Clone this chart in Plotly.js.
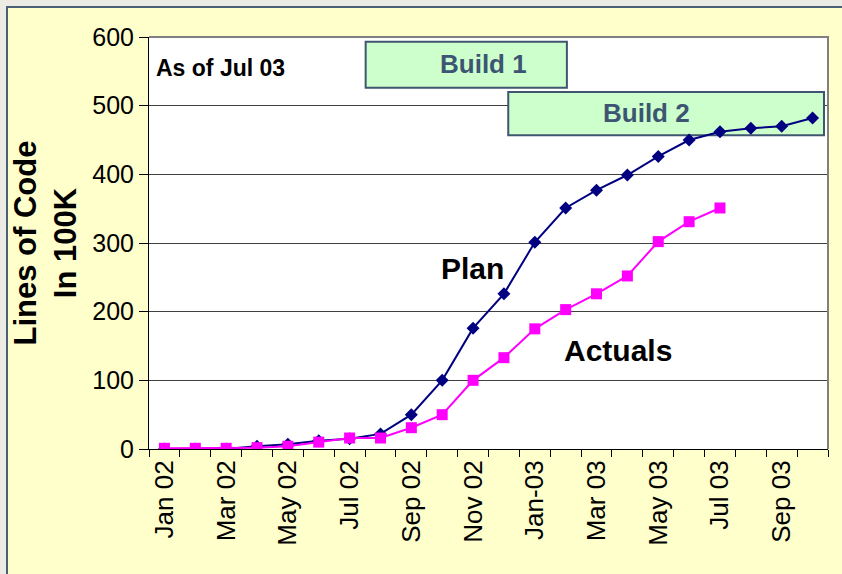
<!DOCTYPE html>
<html>
<head>
<meta charset="utf-8">
<script src="https://cdn.plot.ly/plotly-3.0.1.min.js"></script>
<style>
	body { margin: 0; background: #ECECE4; }
	#frame { position: absolute; left: 6px; top: 6px; width: 836px; height: 568px;
		border-left: 2px solid #4B6078; border-top: 2px solid #4B6078; background: #FFFFCC; }
	#root { width: 834px; height: 566px; }
</style>
</head>
<body>
<div id="frame"><div id="root"></div></div>
<script>
let months = ['Jan 02', 'Feb 02', 'Mar 02', 'Apr 02', 'May 02', 'Jun 02', 'Jul 02', 'Aug 02',
	'Sep 02', 'Oct 02', 'Nov 02', 'Dec 02', 'Jan 03', 'Feb 03', 'Mar 03', 'Apr 03', 'May 03',
	'Jun 03', 'Jul 03', 'Aug 03', 'Sep 03', 'Oct 03'];
let tickLabels = ['Jan 02', '', 'Mar 02', '', 'May 02', '', 'Jul 02', '', 'Sep 02', '',
	'Nov 02', '', 'Jan-03', '', 'Mar 03', '', 'May 03', '', 'Jul 03', '', 'Sep 03', ''];
let plan = [0, 0, 0, 4, 7, 12, 15, 22, 50, 100, 176, 226, 301, 351, 377, 399, 426, 450, 462, 467, 470, 482];
let actuals = [1, 1, 1, 2, 4, 10, 16, 16, 31, 50, 100, 133, 175, 203, 226, 252, 302, 331, 351];

function init() {
	let font = 'Arial, "Liberation Sans", sans-serif';
	let planTrace = {
		x: months,
		y: plan,
		mode: 'lines+markers',
		type: 'scatter',
		line: {color: '#000080', width: 2},
		marker: {symbol: 'diamond', size: 10, color: '#000080'}
	};
	let actualsTrace = {
		x: months.slice(0, actuals.length),
		y: actuals,
		mode: 'lines+markers',
		type: 'scatter',
		line: {color: '#FF00FF', width: 2},
		marker: {symbol: 'square', size: 11, color: '#FF00FF'}
	};
	let boxLine = {color: '#3F5670', width: 2};
	let boxText = {family: font, size: 26, color: '#3D5573', weight: 'bold'};
	let bigText = {family: font, size: 30, color: '#000000', weight: 'bold'};
	let layout = {
		width: 834,
		height: 566,
		margin: {l: 141, r: 14, t: 29, b: 125},
		paper_bgcolor: '#FFFFCC',
		plot_bgcolor: '#FFFFFF',
		showlegend: false,
		font: {family: font, color: '#000000'},
		xaxis: {
			type: 'category',
			range: [-0.5, 21.5],
			tickmode: 'array',
			tickvals: months,
			ticktext: tickLabels,
			tickangle: -90,
			tickson: 'boundaries',
			ticks: 'outside',
			ticklen: 7,
			tickcolor: '#000000',
			showgrid: false,
			showline: true,
			linecolor: '#000000',
			linewidth: 1,
			tickfont: {size: 26}
		},
		yaxis: {
			range: [0, 600],
			dtick: 100,
			ticks: 'outside',
			ticklen: 9,
			tickcolor: '#000000',
			showline: true,
			linecolor: '#000000',
			linewidth: 1,
			gridcolor: '#404040',
			gridwidth: 1,
			zeroline: false,
			tickfont: {size: 25},
			title: {
				text: 'Lines of Code<br>In 100K',
				font: {family: font, size: 31, weight: 'bold'},
				standoff: 18
			}
		},
		shapes: [
			{type: 'path', xref: 'paper', yref: 'paper', path: 'M 0,1 L 1,1 L 1,0',
				line: {color: '#808080', width: 2}},
			{type: 'rect', xref: 'x', yref: 'y', layer: 'between', x0: 6.52, x1: 13.04, y0: 526, y1: 593,
				fillcolor: '#CCFFCC', line: boxLine},
			{type: 'rect', xref: 'x', yref: 'y', layer: 'between', x0: 11.14, x1: 21.37, y0: 457, y1: 520,
				fillcolor: '#CCFFCC', line: boxLine}
		],
		annotations: [
			{xref: 'paper', yref: 'paper', x: 0.007, y: 0.925, xanchor: 'left', yanchor: 'middle',
				text: 'As of Jul 03', showarrow: false,
				font: {family: font, size: 23, color: '#000000', weight: 'bold'}},
			{xref: 'paper', yref: 'paper', x: 0.493, y: 0.934, xanchor: 'center', yanchor: 'middle',
				text: 'Build 1', showarrow: false, font: boxText},
			{xref: 'paper', yref: 'paper', x: 0.733, y: 0.815, xanchor: 'center', yanchor: 'middle',
				text: 'Build 2', showarrow: false, font: boxText},
			{xref: 'paper', yref: 'paper', x: 0.476, y: 0.437, xanchor: 'center', yanchor: 'middle',
				text: 'Plan', showarrow: false, font: bigText},
			{xref: 'paper', yref: 'paper', x: 0.691, y: 0.240, xanchor: 'center', yanchor: 'middle',
				text: 'Actuals', showarrow: false, font: bigText}
		]
	};
	Plotly.newPlot('root', [planTrace, actualsTrace], layout, {staticPlot: true});
}
init();
</script>
</body>
</html>
